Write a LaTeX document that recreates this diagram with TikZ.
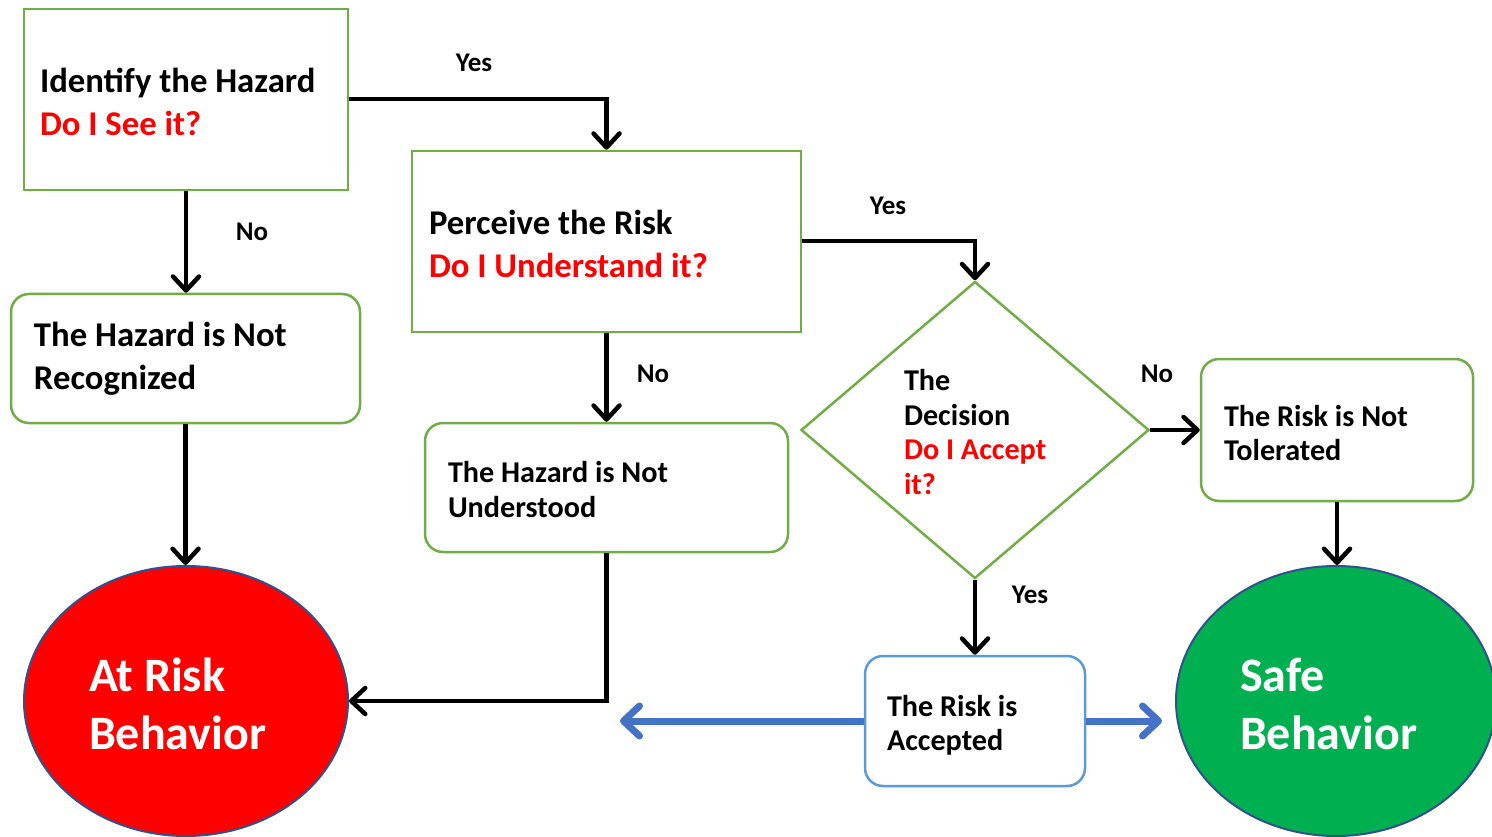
\documentclass[tikz,border=0pt]{standalone}
\usepackage{fontspec}
\setmainfont{Carlito}
\usetikzlibrary{arrows.meta,shapes.geometric}
\definecolor{gborder}{HTML}{70AD47}
\definecolor{bborder}{HTML}{5B9BD5}
\definecolor{barrow}{HTML}{4472C4}
\definecolor{eborder}{HTML}{2F528F}
\definecolor{redfill}{HTML}{FF0000}
\definecolor{greenfill}{HTML}{00B050}
\definecolor{redtext}{HTML}{FF0000}
\begin{document}
\begin{tikzpicture}[x=1pt,y=-1pt,
  every node/.append style={execute at begin node={\spaceskip=0pt\xspaceskip=0pt\relax}},
  sqbox/.style={draw=gborder, line width=2.5pt, fill=white, align=flush left, inner ysep=0pt},
  rbox/.style={draw=gborder, line width=2.5pt, fill=white, rounded corners=18pt, align=flush left, inner ysep=0pt},
  big/.style={font=\bfseries\fontsize{34.7}{43}\selectfont},
  mid/.style={font=\bfseries\fontsize{30.2}{34.5}\selectfont},
  lbl/.style={font=\bfseries\fontsize{27}{32}\selectfont, inner sep=0pt},
  ell/.style={ellipse, draw=eborder, line width=2pt, inner sep=0pt},
  elltext/.style={align=flush left, text=white, inner sep=0pt, font=\bfseries\fontsize{48}{58}\selectfont},
  conn/.style={line width=4.5pt, -{Straight Barb[length=14pt,width=26pt,round]}},
  bconn/.style={draw=barrow, line width=7pt, -{Straight Barb[length=16pt,width=30pt,round]}}
]
\useasboundingbox (0,0) rectangle (1492,837);

\node[sqbox, big, minimum width=324pt, minimum height=181pt, text width=292pt, inner xsep=16pt, text depth=39pt]
  (id) at (186,99.5) {Identify the Hazard\\\textcolor{redtext}{Do I See it?}};
\node[sqbox, big, minimum width=389pt, minimum height=181pt, text width=355pt, inner xsep=17pt, text depth=39pt]
  (per) at (606.5,241.5) {Perceive the Risk\\\textcolor{redtext}{Do I Understand it?}};
\node[rbox, big, minimum width=349pt, minimum height=129pt, text width=303pt, inner xsep=23pt]
  (nrec) at (185.5,358.5) {The Hazard is Not\\Recognized};
\node[rbox, mid, minimum width=363pt, minimum height=129pt, text width=317pt, inner xsep=23pt, text depth=30.5pt]
  (nund) at (606.5,487.5) {The Hazard is Not\\Understood};
\node[diamond, draw=gborder, line width=2.5pt, minimum width=348pt, minimum height=297pt, inner sep=0pt]
  (dec) at (975,430) {};
\node[mid, align=flush left, text width=150pt, inner sep=0pt] (dectext) at (979,432)
  {The\\Decision\\\textcolor{redtext}{Do I Accept}\\\textcolor{redtext}{it?}};
\node[rbox, mid, minimum width=272pt, minimum height=142pt, text width=226pt, inner xsep=23pt, text depth=29pt]
  (tol) at (1337,430) {The Risk is Not\\Tolerated};
\node[rbox, draw=bborder, mid, minimum width=220pt, minimum height=130pt, text width=176pt, inner xsep=22pt, text depth=31pt]
  (acc) at (975,721) {The Risk is\\Accepted};
\node[ell, fill=redfill, minimum width=324pt, minimum height=270pt] (risk) at (186,701) {};
\node[elltext, text width=190pt] (risktext) at (184,704) {At Risk\\Behavior};
\node[ell, fill=greenfill, minimum width=320pt, minimum height=270pt] (safe) at (1336,701) {};
\node[elltext, text width=190pt] (safetext) at (1335,704) {Safe\\Behavior};

\draw[conn] (id.east |- 0,99) -| (per.north);
\draw[conn] (id.south) -- (id.south |- nrec.north);
\draw[conn] (per.east |- 0,241) -| (dec.north);
\draw[conn] (per.south) -- (nund.north);
\draw[conn] (dec.east) -- (dec.east -| tol.west);
\draw[conn] (dec.south) -- (acc.north);
\draw[conn] (nrec.south) -- (nrec.south |- risk.north);
\draw[conn] (nund.south) |- (risk.east);
\draw[conn] (tol.south) -- (tol.south |- safe.north);

\coordinate (lend) at (620,721);
\coordinate (rend) at (1162,721);
\draw[bconn] (acc.west |- lend) -- (lend);
\draw[bconn] (acc.east |- rend) -- (rend);

\node[lbl] (y1) at (474,63) {Yes};
\node[lbl] (n1) at (252,232) {No};
\node[lbl] (y2) at (888,206) {Yes};
\node[lbl] (n2) at (653,374) {No};
\node[lbl] (n3) at (1157,374) {No};
\node[lbl] (y3) at (1030,595) {Yes};
\end{tikzpicture}
\end{document}
